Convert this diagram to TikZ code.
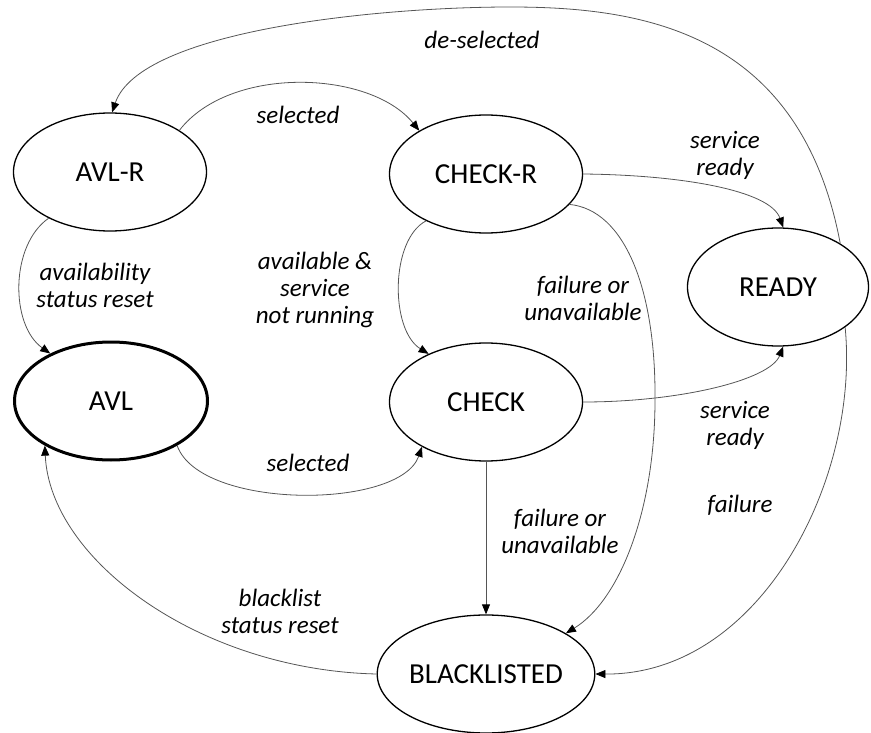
\documentclass[tikz,border=0pt]{standalone}
\usepackage{fontspec}
\setmainfont{Carlito}
\usetikzlibrary{shapes.geometric,arrows.meta}
\definecolor{edgegray}{RGB}{85,85,85}
\begin{document}
\begin{tikzpicture}[x=1pt,y=-1pt,
  state/.style={ellipse, draw=black, line width=1.3pt, minimum width=193pt,
    minimum height=118pt, inner sep=0pt, font=\fontsize{29}{32}\selectfont},
  trans/.style={draw=edgegray, line width=0.8pt,
    -{Triangle[length=10pt,width=8pt,color=black]}},
  lbl/.style={font=\fontsize{25}{27}\selectfont\itshape, align=center, inner sep=0pt},
]
\useasboundingbox (0,0) rectangle (871,733);

% states
\node[state] (avlr)   at (110,172) {AVL-R};
\node[state] (checkr) at (486,174) {CHECK-R};
\node[state, minimum width=181pt] (ready) at (778,287) {READY};
\node[state, line width=3pt] (avl) at (111,401) {AVL};
\node[state] (check)  at (486,402) {CHECK};
\node[state] (black)  at (486,674) {BLACKLISTED};

% transitions
\draw[trans] (ready.35) .. controls (800,30) and (640,7) .. (510,7)
  .. controls (380,7) and (140,30) .. (avlr.88);
\draw[trans] (avlr.31) .. controls (230,65) and (370,70) .. (checkr.147);
\draw[trans] (checkr.0) .. controls (680,175) and (770,190) .. (ready.85);
\draw[trans] (checkr.-20) .. controls (625,210) and (656,290) .. (655,400)
  .. controls (655,510) and (620,600) .. (black.27);
\draw[trans] (checkr.218) .. controls (390,240) and (390,330) .. (check.140);
\draw[trans] (avlr.217) .. controls (10,245) and (10,325) .. (avl.142);
\draw[trans] (avl.-34) .. controls (200,510) and (400,510) .. (check.215);
\draw[trans] (check.0) .. controls (680,402) and (770,380) .. (ready.275);
\draw[trans] (check.south) -- (black.north);
\draw[trans] (ready.-31) .. controls (860,480) and (760,675) .. (black.0);
\draw[trans] (black.180) .. controls (200,670) and (50,560) .. (avl.214);

% transition labels
\node[lbl] (l1)  at (482,40)  {de-selected};
\node[lbl] (l2)  at (298,115) {selected};
\node[lbl] (l3)  at (725,155) {service\\ready};
\node[lbl] (l4)  at (583,298) {failure or\\unavailable};
\node[lbl] (l5)  at (315,290) {available \&\\service\\not running};
\node[lbl] (l6)  at (95,285)  {availability\\status reset};
\node[lbl] (l7)  at (308,463) {selected};
\node[lbl] (l8)  at (735,425) {service\\ready};
\node[lbl] (l9)  at (560,531) {failure or\\unavailable};
\node[lbl] (l10) at (740,505) {failure};
\node[lbl] (l11) at (280,611) {blacklist\\status reset};
\end{tikzpicture}
\end{document}
